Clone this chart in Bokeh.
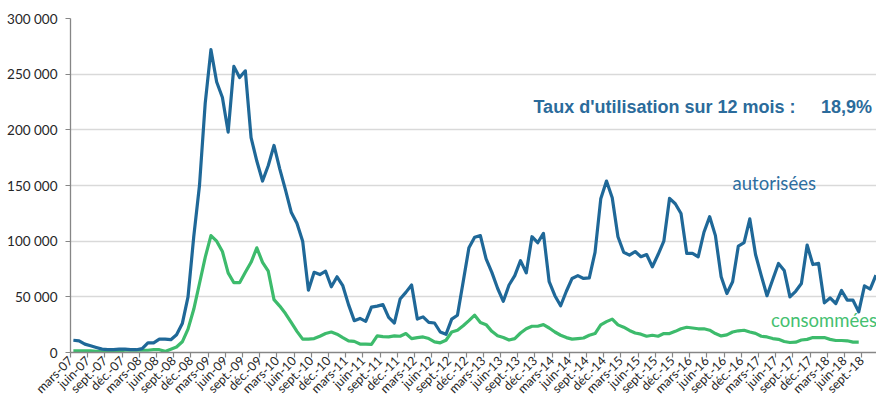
from math import pi
from bokeh.plotting import figure
from bokeh.models import Range1d, FixedTicker, Label, ColumnDataSource
from bokeh.embed import file_html
from bokeh.resources import INLINE

# ---------------- data (monthly, mars-07 .. nov-18) ----------------
autorisees_k = [
    11, 10.5, 7.5, 6, 4.5, 3, 2.5, 2.5, 3, 3, 2.5, 2.5, 3.5, 8.7, 8.7, 12, 12, 11.5, 16, 26,
    50, 104, 150, 224, 272, 243, 229, 198, 257, 247, 253, 193, 172, 154, 168, 186, 165, 146, 126, 116,
    100, 56, 72, 70, 73, 59, 68, 60, 43, 28.6, 30.6, 28, 40.8, 41.7, 43, 31.5, 26.5, 48, 54, 60.6,
    30, 32, 27, 26.5, 18.4, 16.3, 30, 33.5, 63.6, 94, 103.5, 105, 84, 72, 57.7, 46, 60.6, 69, 82.5, 71.5,
    104, 98.6, 107, 63.6, 51, 42, 55, 66.5, 69, 66.5, 67, 90, 138, 154, 139, 104, 90, 87.5, 90.7, 86,
    88, 77, 88, 100, 138.5, 133.6, 124.8, 89, 89, 86, 108, 122, 105, 68, 53, 63.6, 95.6, 98.6, 120, 88,
    69, 51, 65.6, 80, 73.7, 49.9, 55, 62, 96.5, 79, 80, 44.6, 49, 44, 55.7, 47, 47, 36.5, 59.8, 57, 69.4,
]
consommees_k = [
    1.5, 1.5, 1.5, 1.5, 1, 0.5, 0.5, 1, 1.5, 2, 2, 2, 2, 2, 2.5, 2.5, 1, 3, 5, 9.6,
    21, 38.8, 62, 85.5, 105, 100, 90.7, 71.5, 62.7, 62.7, 72, 81, 94, 81, 73, 47.5, 41.7, 35, 27, 19,
    12, 12, 12.5, 14.6, 17, 18.4, 16.5, 13.4, 10.5, 10, 7.6, 7.6, 7.3, 14.9, 14.3, 14, 14.9, 14.6, 17, 12.5,
    13.4, 14, 12.5, 9.6, 8.7, 11, 18.4, 20, 24, 28.6, 33.5, 27, 25, 19, 15, 13.4, 11.2, 12.5, 17.5, 21.3,
    23.6, 23.6, 25, 22, 18.4, 15.5, 13.4, 12, 12.5, 13, 15.5, 17, 24.8, 27.7, 30, 24.8, 22.7, 19.8, 17.5, 16.5,
    14.6, 15.5, 14.6, 17, 17, 19, 21.3, 22.7, 22, 21.3, 21.3, 20, 17, 14.9, 15.8, 18.4, 19.5, 20, 18.4, 17.2,
    14.6, 14, 12.5, 11.8, 9.9, 9, 9.3, 11.2, 11.8, 13.4, 13.4, 13.4, 11.8, 10.8, 10.8, 10.5, 9.3, 9.3,
]

x_tick_labels = [
    "mars-07", "juin-07", "sept.-07", "déc.-07",
    "mars-08", "juin-08", "sept.-08", "déc.-08",
    "mars-09", "juin-09", "sept.-09", "déc.-09",
    "mars-10", "juin-10", "sept.-10", "déc.-10",
    "mars-11", "juin-11", "sept.-11", "déc.-11",
    "mars-12", "juin-12", "sept.-12", "déc.-12",
    "mars-13", "juin-13", "sept.-13", "déc.-13",
    "mars-14", "juin-14", "sept.-14", "déc.-14",
    "mars-15", "juin-15", "sept.-15", "déc.-15",
    "mars-16", "juin-16", "sept.-16", "déc.-16",
    "mars-17", "juin-17", "sept.-17", "déc.-17",
    "mars-18", "juin-18", "sept.-18",
]
y_ticks = [0, 50000, 100000, 150000, 200000, 250000, 300000]
y_tick_labels = ["0", "50 000", "100 000", "150 000", "200 000", "250 000", "300 000"]

taux_text = "Taux d'utilisation sur 12 mois :"
taux_value = "18,9%"
serie_labels = ["autorisées", "consommées"]

# ---------------- build ----------------
BLUE = "#1f6898"
GREEN = "#3dbb6c"

src_a = ColumnDataSource(dict(x=[i + 0.5 for i in range(len(autorisees_k))],
                              y=[v * 1000 for v in autorisees_k]))
src_c = ColumnDataSource(dict(x=[i + 0.5 for i in range(len(consommees_k))],
                              y=[v * 1000 for v in consommees_k]))

p = figure(width=876, height=404, output_backend="svg", toolbar_location=None,
           x_range=Range1d(0, 140.6), y_range=Range1d(0, 300000),
           min_border_left=70, min_border_right=0, min_border_top=18, min_border_bottom=43)
p.outline_line_color = None
p.background_fill_color = "white"
p.border_fill_color = "white"

p.xgrid.grid_line_color = None
p.ygrid.grid_line_color = "#d9d9d9"
p.ygrid.grid_line_width = 1.5

p.yaxis.ticker = FixedTicker(ticks=y_ticks)
p.yaxis.major_label_overrides = {t: s for t, s in zip(y_ticks, y_tick_labels)}
x_ticks = [3 * k for k in range(len(x_tick_labels))]
p.xaxis.ticker = FixedTicker(ticks=x_ticks)
p.xaxis.major_label_overrides = {t: s for t, s in zip(x_ticks, x_tick_labels)}
p.xaxis.major_label_orientation = pi / 4

for ax in (p.xaxis, p.yaxis):
    ax.axis_line_color = "#868686"
    ax.axis_line_width = 1.3
    ax.major_tick_line_color = "#868686"
    ax.major_tick_line_width = 1.2
    ax.major_tick_in = 0
    ax.major_tick_out = 5
    ax.minor_tick_line_color = None
    ax.major_label_text_font = "Lato"
    ax.major_label_text_color = "#262626"
p.yaxis.major_label_text_font_size = "13.5px"
p.yaxis.major_label_standoff = 8
p.xaxis.major_label_text_font_size = "12.5px"
p.xaxis.major_label_standoff = 1

p.line("x", "y", source=src_c, line_color=GREEN, line_width=3.2, line_join="round")
p.line("x", "y", source=src_a, line_color=BLUE, line_width=3.2, line_join="round")

p.add_layout(Label(x=80.76, y=220500, text=taux_text, text_font="Liberation Sans",
                   text_font_style="bold", text_font_size="18px", text_color="#2b6b9b",
                   text_baseline="middle", text_align="left"))
p.add_layout(Label(x=130.9, y=220500, text=taux_value, text_font="Liberation Sans",
                   text_font_style="bold", text_font_size="18px", text_color="#2b6b9b",
                   text_baseline="middle", text_align="left"))
p.add_layout(Label(x=115.5, y=152000, text=serie_labels[0], text_font="Lato",
                   text_font_size="18.5px", text_color="#2e6e9f",
                   text_baseline="middle", text_align="left"))
p.add_layout(Label(x=122.2, y=28900, text=serie_labels[1], text_font="Lato",
                   text_font_size="18.5px", text_color="#45c070",
                   text_baseline="middle", text_align="left"))

open("out.html", "w").write(file_html(p, INLINE))
